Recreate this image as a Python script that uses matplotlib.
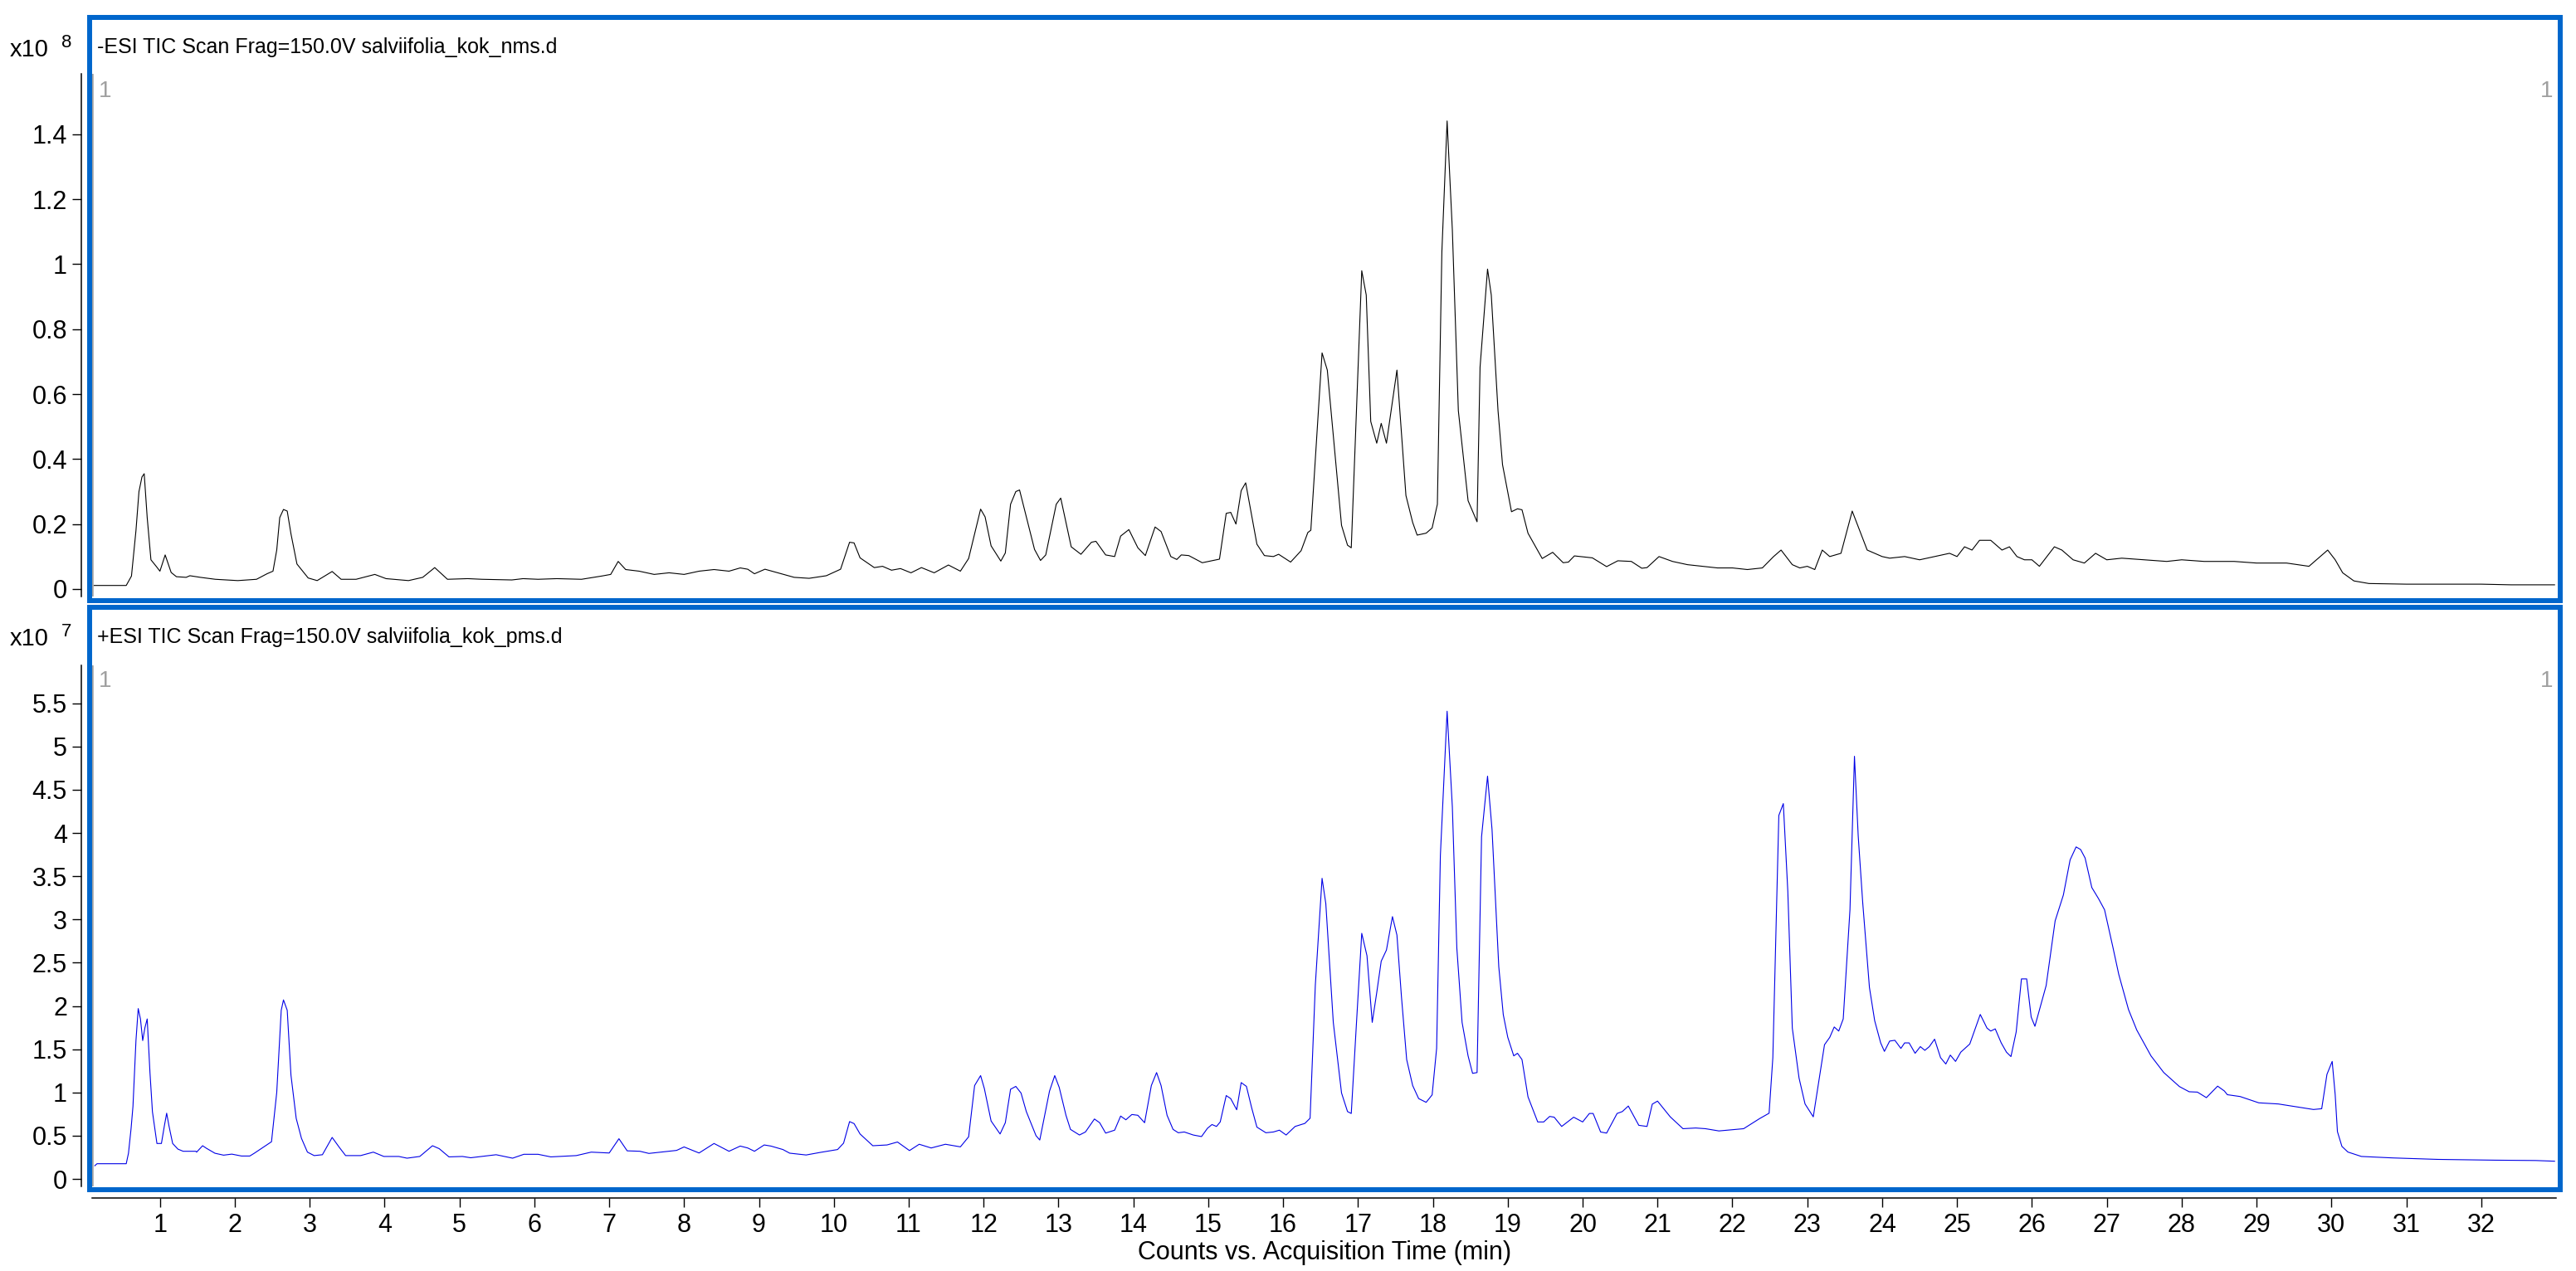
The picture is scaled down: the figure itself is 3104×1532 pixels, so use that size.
import matplotlib
matplotlib.use("Agg")
import matplotlib.pyplot as plt
from matplotlib.patches import Rectangle
from matplotlib.lines import Line2D

plt.rcParams['font.family'] = ['Liberation Sans', 'DejaVu Sans']

# -ESI TIC (x10^8)
neg_time = [0.12, 0.55, 0.62, 0.68, 0.72, 0.76, 0.79, 0.83, 0.88, 0.95, 1.00, 1.07, 1.15, 1.22,
            1.35, 1.40, 1.54, 1.74, 2.04, 2.29, 2.43, 2.51, 2.56, 2.60, 2.65, 2.70, 2.75, 2.83,
            2.98, 3.10, 3.30, 3.42, 3.62, 3.87, 4.02, 4.32, 4.51, 4.67, 4.84, 5.11, 5.30, 5.70,
            5.85, 6.05, 6.30, 6.63, 6.90, 7.02, 7.12, 7.22, 7.40, 7.60, 7.80, 8.00, 8.20, 8.40,
            8.60, 8.75, 8.85, 8.94, 9.08, 9.47, 9.67, 9.90, 10.09, 10.21, 10.27, 10.35, 10.54,
            10.65, 10.77, 10.89, 11.03, 11.17, 11.34, 11.53, 11.69, 11.80, 11.96, 12.02, 12.10,
            12.23, 12.29, 12.36, 12.43, 12.48, 12.68, 12.76, 12.83, 12.97, 13.03, 13.17, 13.30,
            13.44, 13.50, 13.63, 13.75, 13.83, 13.94, 14.06, 14.16, 14.29, 14.37, 14.50, 14.58,
            14.64, 14.74, 14.92, 15.15, 15.24, 15.30, 15.37, 15.44, 15.50, 15.58, 15.65, 15.75,
            15.87, 15.94, 16.10, 16.24, 16.33, 16.37, 16.52, 16.59, 16.78, 16.86, 16.91, 17.05,
            17.11, 17.17, 17.25, 17.31, 17.38, 17.52, 17.64, 17.73, 17.79, 17.91, 17.99, 18.06,
            18.12, 18.19, 18.26, 18.34, 18.47, 18.59, 18.63, 18.73, 18.78, 18.87, 18.93, 19.05,
            19.13, 19.19, 19.27, 19.46, 19.60, 19.74, 19.81, 19.89, 20.13, 20.32, 20.47, 20.65,
            20.79, 20.86, 21.02, 21.20, 21.40, 21.60, 21.80, 22.00, 22.20, 22.40, 22.55, 22.65,
            22.80, 22.90, 23.00, 23.10, 23.20, 23.30, 23.45, 23.60, 23.70, 23.80, 23.90, 24.00,
            24.10, 24.30, 24.50, 24.70, 24.90, 25.00, 25.10, 25.20, 25.30, 25.45, 25.60, 25.70,
            25.80, 25.90, 26.00, 26.10, 26.30, 26.40, 26.55, 26.70, 26.85, 27.00, 27.20, 27.50,
            27.80, 28.00, 28.30, 28.70, 29.00, 29.40, 29.70, 29.85, 29.95, 30.05, 30.15, 30.30,
            30.50, 31.00, 32.00, 32.40, 32.98]
neg_tic = [0.011, 0.011, 0.040, 0.180, 0.300, 0.345, 0.355, 0.220, 0.090, 0.070, 0.055, 0.105,
           0.051, 0.038, 0.036, 0.041, 0.036, 0.030, 0.026, 0.030, 0.047, 0.055, 0.120, 0.220,
           0.245, 0.240, 0.170, 0.077, 0.034, 0.026, 0.054, 0.030, 0.030, 0.045, 0.032, 0.026,
           0.036, 0.066, 0.030, 0.032, 0.030, 0.028, 0.032, 0.030, 0.032, 0.030, 0.040, 0.045,
           0.085, 0.060, 0.055, 0.045, 0.050, 0.045, 0.055, 0.060, 0.055, 0.065, 0.061, 0.047,
           0.061, 0.036, 0.033, 0.041, 0.061, 0.144, 0.142, 0.096, 0.066, 0.070, 0.058, 0.063,
           0.050, 0.066, 0.050, 0.074, 0.055, 0.094, 0.246, 0.222, 0.133, 0.086, 0.111, 0.261,
           0.300, 0.305, 0.122, 0.088, 0.105, 0.261, 0.280, 0.130, 0.107, 0.144, 0.147, 0.105,
           0.100, 0.163, 0.183, 0.127, 0.103, 0.191, 0.177, 0.100, 0.091, 0.105, 0.103, 0.081,
           0.092, 0.233, 0.236, 0.200, 0.303, 0.327, 0.227, 0.138, 0.103, 0.100, 0.107, 0.083,
           0.118, 0.174, 0.181, 0.727, 0.674, 0.196, 0.135, 0.127, 0.980, 0.905, 0.516, 0.449,
           0.510, 0.449, 0.674, 0.288, 0.205, 0.166, 0.172, 0.188, 0.261, 1.038, 1.441, 1.105,
           0.549, 0.272, 0.207, 0.683, 0.985, 0.905, 0.549, 0.383, 0.238, 0.247, 0.244, 0.172,
           0.094, 0.113, 0.081, 0.083, 0.102, 0.096, 0.069, 0.087, 0.085, 0.064, 0.066, 0.100,
           0.085, 0.075, 0.070, 0.065, 0.065, 0.060, 0.065, 0.100, 0.120, 0.075, 0.065, 0.070,
           0.060, 0.120, 0.100, 0.110, 0.240, 0.180, 0.120, 0.110, 0.100, 0.095, 0.100, 0.090,
           0.100, 0.110, 0.100, 0.130, 0.120, 0.150, 0.150, 0.120, 0.130, 0.100, 0.090, 0.090,
           0.070, 0.130, 0.120, 0.090, 0.080, 0.110, 0.090, 0.095, 0.090, 0.085, 0.090, 0.085,
           0.085, 0.080, 0.080, 0.070, 0.100, 0.120, 0.090, 0.050, 0.025, 0.017, 0.015, 0.015,
           0.013, 0.013]

# +ESI TIC (x10^7)
pos_time = [0.13, 0.16, 0.55, 0.58, 0.615, 0.64, 0.68, 0.71, 0.74, 0.77, 0.80, 0.83, 0.867, 0.90,
            0.96, 1.02, 1.06, 1.09, 1.12, 1.17, 1.24, 1.31, 1.48, 1.49, 1.57, 1.62, 1.735, 1.85,
            1.96, 2.09, 2.20, 2.26, 2.49, 2.56, 2.62, 2.65, 2.70, 2.75, 2.82, 2.89, 2.97, 3.06,
            3.17, 3.30, 3.40, 3.48, 3.68, 3.85, 3.99, 4.19, 4.30, 4.47, 4.64, 4.73, 4.86, 5.04,
            5.15, 5.49, 5.71, 5.86, 6.05, 6.22, 6.56, 6.76, 7.00, 7.13, 7.24, 7.41, 7.53, 7.74,
            7.90, 8.00, 8.20, 8.40, 8.60, 8.75, 8.85, 8.94, 9.07, 9.16, 9.32, 9.41, 9.63, 9.82,
            10.05, 10.13, 10.21, 10.27, 10.35, 10.52, 10.71, 10.85, 11.01, 11.14, 11.30, 11.49,
            11.69, 11.80, 11.88, 11.96, 12.01, 12.10, 12.22, 12.29, 12.36, 12.43, 12.50, 12.57,
            12.70, 12.75, 12.88, 12.95, 13.01, 13.10, 13.16, 13.28, 13.36, 13.48, 13.55, 13.63,
            13.75, 13.83, 13.90, 13.98, 14.06, 14.15, 14.24, 14.31, 14.37, 14.45, 14.53, 14.60,
            14.68, 14.80, 14.91, 14.99, 15.05, 15.11, 15.16, 15.24, 15.30, 15.38, 15.44, 15.51,
            15.58, 15.65, 15.77, 15.87, 15.95, 16.04, 16.16, 16.29, 16.36, 16.43, 16.52, 16.57,
            16.67, 16.78, 16.86, 16.91, 16.98, 17.05, 17.12, 17.19, 17.25, 17.31, 17.38, 17.46,
            17.52, 17.58, 17.65, 17.73, 17.81, 17.91, 17.99, 18.05, 18.10, 18.19, 18.26, 18.32,
            18.39, 18.47, 18.53, 18.59, 18.65, 18.73, 18.79, 18.88, 18.94, 19.00, 19.08, 19.13,
            19.19, 19.27, 19.40, 19.48, 19.56, 19.62, 19.72, 19.88, 20.00, 20.09, 20.14, 20.24,
            20.32, 20.46, 20.53, 20.61, 20.75, 20.86, 20.93, 21.00, 21.17, 21.34, 21.51, 21.64,
            21.82, 22.15, 22.36, 22.49, 22.54, 22.62, 22.68, 22.74, 22.80, 22.89, 22.97, 23.08,
            23.23, 23.30, 23.36, 23.42, 23.48, 23.57, 23.63, 23.68, 23.74, 23.83, 23.90, 23.98,
            24.03, 24.10, 24.17, 24.25, 24.30, 24.36, 24.44, 24.51, 24.57, 24.63, 24.70, 24.78,
            24.85, 24.91, 24.98, 25.05, 25.17, 25.31, 25.40, 25.45, 25.51, 25.59, 25.66, 25.72,
            25.79, 25.86, 25.93, 25.99, 26.04, 26.19, 26.31, 26.42, 26.51, 26.59, 26.65, 26.71,
            26.80, 26.89, 26.97, 27.08, 27.16, 27.29, 27.40, 27.59, 27.76, 27.97, 28.10, 28.21,
            28.33, 28.48, 28.57, 28.61, 28.78, 29.03, 29.29, 29.54, 29.76, 29.87, 29.94, 30.01,
            30.05, 30.08, 30.14, 30.22, 30.40, 30.82, 31.42, 32.18, 32.73, 32.98]
pos_tic = [0.153, 0.176, 0.176, 0.297, 0.585, 0.840, 1.600, 1.970, 1.850, 1.600, 1.750, 1.850,
           1.230, 0.777, 0.410, 0.410, 0.617, 0.760, 0.617, 0.410, 0.345, 0.320, 0.320, 0.310,
           0.384, 0.355, 0.297, 0.275, 0.287, 0.265, 0.265, 0.297, 0.430, 1.000, 1.950, 2.070,
           1.950, 1.200, 0.700, 0.470, 0.310, 0.270, 0.280, 0.480, 0.360, 0.270, 0.270, 0.310,
           0.260, 0.260, 0.240, 0.260, 0.384, 0.350, 0.255, 0.260, 0.245, 0.280, 0.240, 0.285,
           0.285, 0.255, 0.270, 0.310, 0.300, 0.465, 0.325, 0.320, 0.295, 0.315, 0.330, 0.370,
           0.300, 0.410, 0.320, 0.380, 0.358, 0.320, 0.393, 0.380, 0.340, 0.298, 0.277, 0.307,
           0.340, 0.414, 0.663, 0.640, 0.520, 0.384, 0.393, 0.427, 0.328, 0.401, 0.358, 0.401,
           0.371, 0.487, 1.080, 1.195, 1.045, 0.670, 0.520, 0.650, 1.037, 1.070, 0.993, 0.780,
           0.500, 0.450, 1.015, 1.195, 1.058, 0.736, 0.573, 0.508, 0.543, 0.693, 0.650, 0.530,
           0.564, 0.727, 0.684, 0.745, 0.736, 0.650, 1.080, 1.230, 1.080, 0.736, 0.573, 0.534,
           0.543, 0.508, 0.490, 0.586, 0.629, 0.607, 0.659, 0.964, 0.929, 0.800, 1.114, 1.070,
           0.822, 0.599, 0.534, 0.543, 0.564, 0.508, 0.607, 0.642, 0.702, 2.240, 3.476, 3.184,
           1.810, 0.994, 0.779, 0.757, 1.810, 2.840, 2.580, 1.810, 2.153, 2.518, 2.647, 3.033,
           2.819, 2.110, 1.380, 1.080, 0.929, 0.886, 0.972, 1.510, 3.740, 5.408, 4.300, 2.668,
           1.810, 1.423, 1.221, 1.230, 3.957, 4.657, 4.040, 2.454, 1.900, 1.638, 1.423, 1.453,
           1.380, 0.950, 0.659, 0.659, 0.723, 0.714, 0.607, 0.714, 0.659, 0.757, 0.757, 0.543,
           0.530, 0.757, 0.779, 0.843, 0.620, 0.607, 0.865, 0.900, 0.718, 0.581, 0.589, 0.581,
           0.555, 0.581, 0.696, 0.760, 1.402, 4.203, 4.340, 3.326, 1.744, 1.167, 0.867, 0.718,
           1.552, 1.637, 1.757, 1.710, 1.850, 3.112, 4.887, 3.967, 3.198, 2.214, 1.830, 1.573,
           1.475, 1.594, 1.603, 1.509, 1.573, 1.573, 1.453, 1.530, 1.487, 1.530, 1.616, 1.402,
           1.329, 1.432, 1.359, 1.466, 1.560, 1.902, 1.744, 1.710, 1.735, 1.573, 1.466, 1.415,
           1.701, 2.313, 2.313, 1.872, 1.765, 2.236, 2.984, 3.283, 3.689, 3.839, 3.809, 3.711,
           3.369, 3.240, 3.112, 2.685, 2.364, 1.958, 1.722, 1.423, 1.231, 1.068, 1.008, 1.004,
           0.940, 1.073, 1.017, 0.974, 0.953, 0.880, 0.867, 0.833, 0.803, 0.812, 1.209, 1.359,
           0.974, 0.547, 0.376, 0.311, 0.260, 0.243, 0.226, 0.217, 0.213, 0.205]

neg_ticks = [0, 0.2, 0.4, 0.6, 0.8, 1.0, 1.2, 1.4]
pos_ticks = [0, 0.5, 1, 1.5, 2, 2.5, 3, 3.5, 4, 4.5, 5, 5.5]
time_ticks = list(range(1, 33))

W, H = 3104, 1532
fig = plt.figure(figsize=(W / 100, H / 100), dpi=100)
BLUE = '#0066cc'
GRAY = '#a0a0a0'


def fx(px):
    return px / W


def fy(py):
    return 1 - py / H


def panel(top, bottom, ylim, ticks, x, y, color):
    ax = fig.add_axes([fx(111.5), fy(bottom), fx(3080) - fx(111.5), fy(top) - fy(bottom)])
    ax.plot(x, y, color=color, lw=0.8)
    ax.set_xlim(0.1, 33.0)
    ax.set_ylim(*ylim)
    for s in ['top', 'right', 'bottom']:
        ax.spines[s].set_visible(False)
    ax.spines['left'].set_position(('outward', 10))
    ax.spines['left'].set_linewidth(1.1)
    ax.set_yticks(ticks)
    ax.set_yticklabels(['%g' % t for t in ticks])
    ax.tick_params(axis='y', direction='out', length=8, width=1.0, pad=4, labelsize=22)
    ax.add_line(Line2D([0, 0], [0, 1], transform=ax.transAxes, color=GRAY, lw=1.8))
    return ax


ax1 = panel(89, 719, (-0.023, 1.586), neg_ticks, neg_time, neg_tic, 'black')
ax1.set_xticks([])

ax2 = panel(801.7, 1430, (-0.086, 5.941), pos_ticks, pos_time, pos_tic, '#0000e6')
ax2.spines['bottom'].set_visible(True)
ax2.spines['bottom'].set_position(('outward', 10))
ax2.spines['bottom'].set_linewidth(1.1)
ax2.set_xticks(time_ticks)
ax2.tick_params(axis='x', direction='out', length=8, width=1.0, pad=5, labelsize=22)
ax2.set_xlabel('Counts vs. Acquisition Time (min)', fontsize=22, labelpad=2)

# blue frames around each panel
for top, bot in [(21, 724), (732, 1434)]:
    fig.patches.append(Rectangle((fx(108), fy(bot)), fx(3085) - fx(108), fy(top) - fy(bot),
                                 transform=fig.transFigure, fill=False, ec=BLUE, lw=4.3))

# panel titles and exponent labels
fig.text(fx(117), fy(64), '-ESI TIC Scan Frag=150.0V salviifolia_kok_nms.d', fontsize=18, va='baseline')
fig.text(fx(117), fy(775), '+ESI TIC Scan Frag=150.0V salviifolia_kok_pms.d', fontsize=18, va='baseline')
fig.text(fx(12), fy(68), 'x10', fontsize=21, va='baseline')
fig.text(fx(74), fy(57), '8', fontsize=16, va='baseline')
fig.text(fx(12), fy(778), 'x10', fontsize=21, va='baseline')
fig.text(fx(74), fy(767), '7', fontsize=16, va='baseline')

# gray cursor markers
for ytop in [117, 828]:
    fig.text(fx(119), fy(ytop), '1', fontsize=20, color=GRAY, va='baseline')
    fig.text(fx(3076), fy(ytop), '1', fontsize=20, color=GRAY, va='baseline', ha='right')

fig.savefig('out.png', dpi=100)
